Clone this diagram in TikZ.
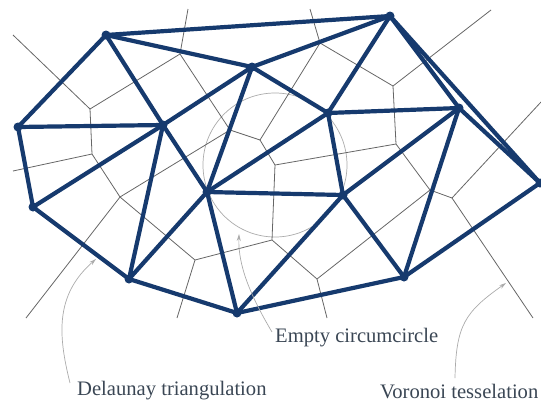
\documentclass[tikz,border=0pt]{standalone}
\usepackage{fontspec}
\setmainfont{Liberation Serif}
\usetikzlibrary{arrows.meta}
\definecolor{delblue}{HTML}{163A6E}
\definecolor{vorgray}{HTML}{666666}
\definecolor{notegray}{HTML}{ABABAB}
\definecolor{labelink}{HTML}{3A4654}
\tikzset{
  site/.style={circle, fill=delblue, inner sep=0pt, minimum size=9pt},
  delaunay/.style={line width=4.2pt, draw=delblue, line cap=round},
  voronoi/.style={line width=0.8pt, draw=vorgray},
  emptycircle/.style={circle, draw=notegray, line width=0.7pt, inner sep=0pt, minimum size=144pt},
  pointer/.style={-{Stealth[length=7pt,width=4pt]}, line width=0.7pt, draw=notegray},
  caption/.style={font=\fontsize{20.6}{24}\selectfont, text=labelink, anchor=base west, inner sep=0pt},
}
\begin{document}
\begin{tikzpicture}[x=1pt, y=-1pt]
  \useasboundingbox (0,0) rectangle (541,405);

  % --- circumcircle
  \node[emptycircle] (circum) at (275,165) {};

  % --- Voronoi vertices
  \coordinate (v1) at (90,109);
  \coordinate (v2) at (180,54);
  \coordinate (v3) at (230,130);
  \coordinate (v4) at (92,154);
  \coordinate (v5) at (120,197);
  \coordinate (v6) at (195,260);
  \coordinate (v7) at (272,240);
  \coordinate (v8) at (275,165);
  \coordinate (v9) at (260,140);
  \coordinate (v10) at (320,43);
  \coordinate (v11) at (393,86);
  \coordinate (v12) at (396,144);
  \coordinate (v13) at (452,198);
  \coordinate (v14) at (430,190);
  \coordinate (v15) at (317,279);
  % free ends
  \coordinate (f1) at (13,35);
  \coordinate (f2) at (188,9);
  \coordinate (f3) at (13,171);
  \coordinate (f4) at (26,318);
  \coordinate (f5) at (177,318);
  \coordinate (f6) at (327,318);
  \coordinate (f7) at (310,9);
  \coordinate (f8) at (491,10);
  \coordinate (f9) at (541,102);
  \coordinate (f10) at (533,318);

  \foreach \a/\b in {v1/f1,v1/v2,v1/v4,v2/f2,v2/v3,v3/v5,v3/v9,v4/f3,v4/v5,v5/f4,v5/v6,
                     v6/f5,v6/v7,v7/v8,v7/v15,v8/v9,v8/v12,v9/v10,v10/f7,v10/v11,v11/f8,
                     v11/v12,v12/v14,v14/v13,v14/v15,v13/f9,v13/f10,v15/f6}{
    \draw[voronoi] (\a) -- (\b);
  }

  % --- Delaunay sites
  \node[site] (a) at (106,35) {};
  \node[site] (b) at (18,127) {};
  \node[site] (c) at (33,207) {};
  \node[site] (d) at (129,279) {};
  \node[site] (e) at (237,313) {};
  \node[site] (f) at (404,277) {};
  \node[site] (g) at (540,183) {};
  \node[site] (h) at (459,108) {};
  \node[site] (i) at (390,16) {};
  \node[site] (j) at (252,67) {};
  \node[site] (k) at (163,125) {};
  \node[site] (l) at (207,192) {};
  \node[site] (m) at (328,113) {};
  \node[site] (n) at (343,195) {};

  \foreach \a/\b in {a/i,a/j,a/b,a/k,b/k,b/c,c/k,c/d,d/k,d/l,d/e,e/l,e/n,e/f,l/k,l/j,
                     l/m,l/n,j/i,j/m,j/k,m/i,m/h,m/n,i/h,i/g,h/g,h/n,h/f,n/f,f/g}{
    \draw[delaunay] (\a.center) -- (\b.center);
  }

  % --- captions
  \node[caption] (dellabel) at (77,395) {Delaunay triangulation};
  \node[caption] (circlabel) at (275,342) {Empty circumcircle};
  \node[caption] (vorlabel) at (380,398) {Voronoi tesselation};

  \coordinate (delstart) at (70,383);
  \coordinate (delend) at (96,259);
  \coordinate (circstart) at (272,332);
  \coordinate (circend) at (239,234);
  \coordinate (vorstart) at (455,378);
  \coordinate (vorend) at (506,283);
  \draw[pointer] (delstart) .. controls (58,335) and (55,295) .. (delend);
  \draw[pointer] (circstart) .. controls (250,295) and (238,265) .. (circend);
  \draw[pointer] (vorstart) .. controls (456,325) and (465,312) .. (vorend);
\end{tikzpicture}
\end{document}
